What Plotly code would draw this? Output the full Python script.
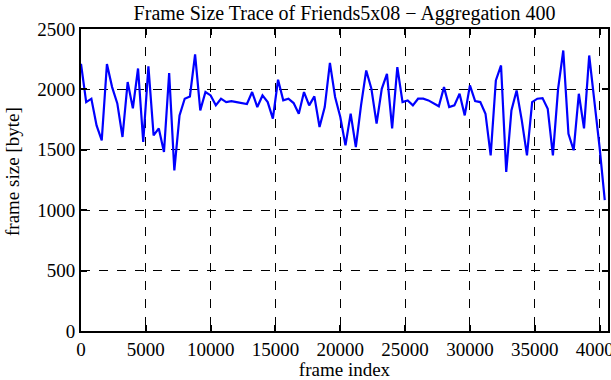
import plotly.graph_objects as go

step = 400
frame_size = [2212, 1895, 1923, 1702, 1578, 2210, 2019, 1884, 1606, 2061,
              1843, 2173, 1565, 2190, 1620, 1677, 1482, 2135, 1330, 1785,
              1923, 1942, 2290, 1826, 1978, 1950, 1868, 1923, 1895, 1903,
              1895, 1884, 1879, 1978, 1854, 1950, 1895, 1758, 2080, 1909,
              1923, 1887, 1799, 1978, 1868, 1942, 1689, 1854, 2220, 1937,
              1772, 1537, 1799, 1523, 1868, 2157, 2005, 1716, 2005, 2129,
              1677, 2184, 1895, 1909, 1868, 1923, 1923, 1909, 1887, 1860,
              2019, 1854, 1868, 1964, 1785, 2033, 1903, 1895, 1799, 1454,
              2074, 2198, 1316, 1826, 1991, 1744, 1454, 1895, 1923, 1928,
              1840, 1454, 2005, 2322, 1633, 1496, 1964, 1677, 2281, 1909,
              1523, 1083]
frame_index = [i * step for i in range(len(frame_size))]

x_ticks = [0, 5000, 10000, 15000, 20000, 25000, 30000, 35000, 40000]
y_ticks = [0, 500, 1000, 1500, 2000, 2500]

title_text = "Frame Size Trace of Friends5x08 \u2212 Aggregation 400"
x_title = "frame index"
y_title = "frame size [byte]"

font_family = "Liberation Serif, Times New Roman, serif"
tick_font = dict(family=font_family, size=19, color="black")

fig = go.Figure()
fig.add_trace(go.Scatter(x=frame_index, y=frame_size, mode="lines",
                         line=dict(color="#0000ff", width=2.2),
                         showlegend=False, hoverinfo="skip"))

axis_common = dict(showline=True, linecolor="black", linewidth=2, mirror="ticks",
                   ticks="inside", ticklen=6, tickwidth=2, tickcolor="black",
                   showgrid=True, gridcolor="black", gridwidth=1, griddash="dash",
                   zeroline=False, tickfont=tick_font, automargin=False,
                   ticklabeloverflow="allow")

fig.update_xaxes(range=[0, 40650], tickvals=x_ticks, ticktext=[str(v) for v in x_ticks],
                 title=dict(text=x_title, font=tick_font, standoff=2),
                 **axis_common)
fig.update_yaxes(range=[0, 2500], tickvals=y_ticks, ticktext=[str(v) for v in y_ticks],
                 **axis_common)

fig.add_annotation(text=y_title, textangle=-90, showarrow=False,
                   xref="paper", yref="paper", x=0, y=0.5,
                   xanchor="center", yanchor="middle", xshift=-69, yshift=8,
                   font=tick_font)

fig.update_layout(
    width=611, height=380,
    margin=dict(l=81, r=3, t=29, b=49),
    paper_bgcolor="white", plot_bgcolor="white",
    title=dict(text=title_text, x=0.5, xanchor="center", xref="paper",
               y=1 - 13 / 380, yref="container", yanchor="middle",
               font=dict(family=font_family, size=20, color="black")),
    font=dict(family=font_family, color="black"),
)

fig.write_html("out.html", config={"displayModeBar": False},
               post_script="document.body.style.margin='0';document.body.style.overflow='hidden';")
